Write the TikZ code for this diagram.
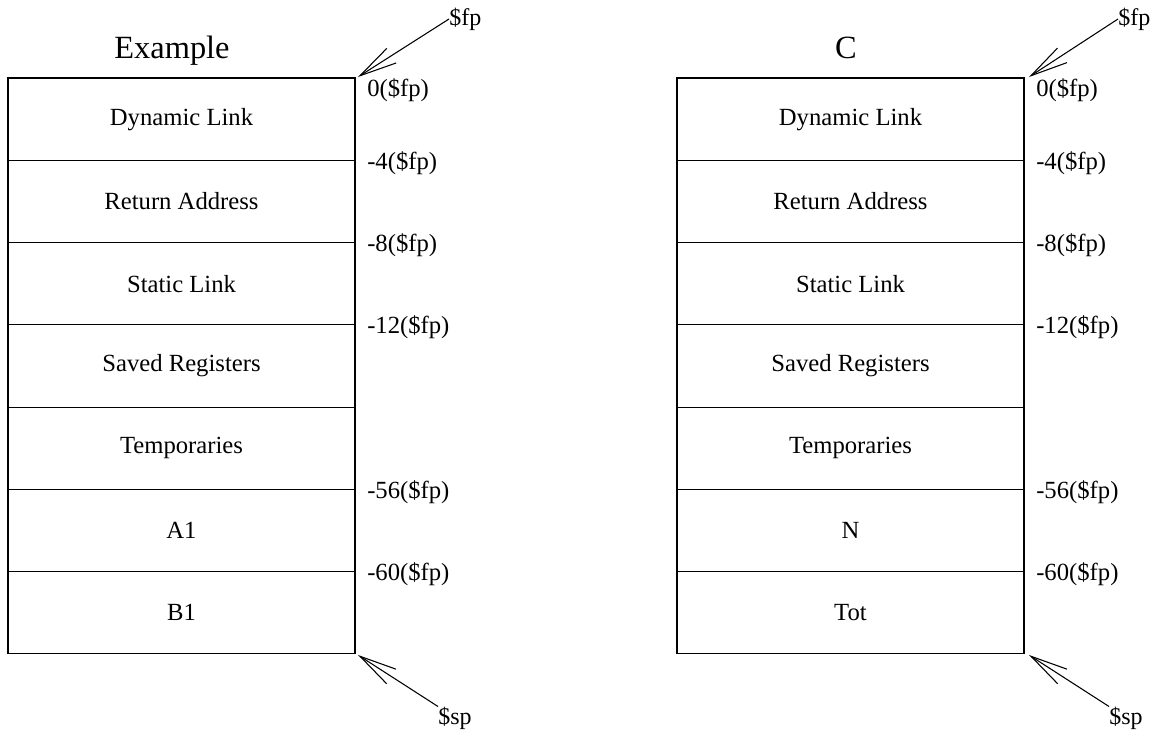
\documentclass[tikz,border=0pt]{standalone}
\usepackage{fontspec}
\setmainfont{Liberation Serif}
\usetikzlibrary{arrows.meta, positioning}

\begin{document}
\begin{tikzpicture}[x=0.75pt, y=-0.75pt,
    slot/.style={draw, line width=0.8pt, minimum width=260.25pt, minimum height=61.7pt, inner sep=0pt, outer sep=0pt, font=\fontsize{18.5}{20}\selectfont},
    offlbl/.style={inner sep=0pt, font=\fontsize{18.5}{20}\selectfont},
    ptrlbl/.style={inner sep=0pt, font=\fontsize{18}{20}\selectfont},
    ttl/.style={inner sep=0pt, font=\fontsize{24.3}{26}\selectfont},
    ptr/.style={line width=0.8pt, -{Straight Barb[length=28pt, width=13pt, line width=0.8pt]}}]
  \useasboundingbox (0,0) rectangle (1157,732);

  % left frame
  \node[ttl, anchor=base] (ltitle) at (172,58) {Example};
  \node[slot, anchor=north west] (ldyn) at (8,78) {Dynamic Link};
  \node[slot, below=0pt of ldyn] (lret) {Return Address};
  \node[slot, below=0pt of lret] (lstat) {Static Link};
  \node[slot, below=0pt of lstat] (lsave) {Saved Registers};
  \node[slot, below=0pt of lsave] (ltemp) {Temporaries};
  \node[slot, below=0pt of ltemp] (la) {A1};
  \node[slot, below=0pt of la] (lb) {B1};

  \node[offlbl, anchor=west] (lo0) at ([xshift=9pt, yshift=-9pt]ldyn.north east) {0(\$fp)};
  \node[offlbl, right=9pt of ldyn.south east, yshift=-2pt] (lo4) {-4(\$fp)};
  \node[offlbl, right=9pt of lret.south east, yshift=-2pt] (lo8) {-8(\$fp)};
  \node[offlbl, right=9pt of lstat.south east, yshift=-2pt] (lo12) {-12(\$fp)};
  \node[offlbl, right=9pt of ltemp.south east, yshift=-2pt] (lo56) {-56(\$fp)};
  \node[offlbl, right=9pt of la.south east, yshift=-2pt] (lo60) {-60(\$fp)};

  \node[ptrlbl, anchor=west] (lfp) at (449,19) {\$fp};
  \node[ptrlbl, anchor=west] (lsp) at (438,718) {\$sp};
  \coordinate (lfptip) at (358,77);
  \coordinate (lsptip) at (358,655);
  \draw[ptr] (lfp.west) -- (lfptip);
  \draw[ptr] (lsp.north west) -- (lsptip);

  % right frame
  \node[ttl, anchor=base] (rtitle) at (846,58) {C};
  \node[slot, anchor=north west] (rdyn) at (677,78) {Dynamic Link};
  \node[slot, below=0pt of rdyn] (rret) {Return Address};
  \node[slot, below=0pt of rret] (rstat) {Static Link};
  \node[slot, below=0pt of rstat] (rsave) {Saved Registers};
  \node[slot, below=0pt of rsave] (rtemp) {Temporaries};
  \node[slot, below=0pt of rtemp] (rn) {N};
  \node[slot, below=0pt of rn] (rtot) {Tot};

  \node[offlbl, anchor=west] (ro0) at ([xshift=9pt, yshift=-9pt]rdyn.north east) {0(\$fp)};
  \node[offlbl, right=9pt of rdyn.south east, yshift=-2pt] (ro4) {-4(\$fp)};
  \node[offlbl, right=9pt of rret.south east, yshift=-2pt] (ro8) {-8(\$fp)};
  \node[offlbl, right=9pt of rstat.south east, yshift=-2pt] (ro12) {-12(\$fp)};
  \node[offlbl, right=9pt of rtemp.south east, yshift=-2pt] (ro56) {-56(\$fp)};
  \node[offlbl, right=9pt of rn.south east, yshift=-2pt] (ro60) {-60(\$fp)};

  \node[ptrlbl, anchor=west] (rfp) at (1118,19) {\$fp};
  \node[ptrlbl, anchor=west] (rsp) at (1109,718) {\$sp};
  \coordinate (rfptip) at (1029,77);
  \coordinate (rsptip) at (1029,655);
  \draw[ptr] (rfp.west) -- (rfptip);
  \draw[ptr] (rsp.north west) -- (rsptip);
\end{tikzpicture}
\end{document}
